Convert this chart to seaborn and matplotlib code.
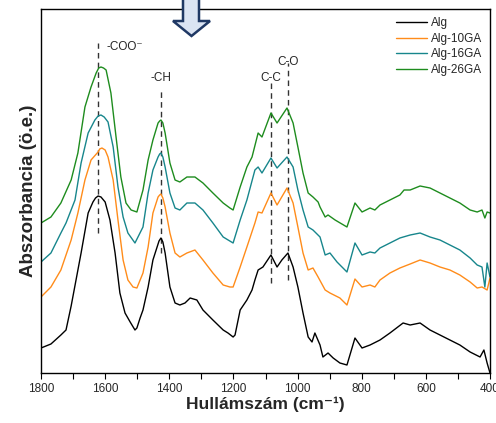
import numpy as np
import pandas as pd
import matplotlib
matplotlib.use('Agg')
import matplotlib.pyplot as plt
from matplotlib.patches import Polygon
from matplotlib.ticker import MultipleLocator
import seaborn as sns

# FTIR spektrumok (leolvasott értékek, eltolva, tetszőleges egység)
wn_alg = [1800, 1769, 1738, 1722, 1706, 1675, 1653, 1638, 1630, 1622, 1613, 1600, 1585, 1569,
          1554, 1538, 1522, 1507, 1501, 1491, 1482, 1466, 1451, 1438, 1432, 1426, 1420, 1413,
          1398, 1382, 1367, 1351, 1335, 1314, 1295, 1264, 1232, 1217, 1201, 1195, 1179, 1158,
          1142, 1133, 1123, 1108, 1083, 1064, 1049, 1030, 1014, 999, 983, 967, 955, 946, 930,
          921, 905, 889, 868, 846, 821, 799, 774, 743, 712, 671, 649, 618, 587, 556, 525, 494,
          462, 431, 419, 409, 400]
a_alg = [0.25, 0.29, 0.38, 0.43, 0.67, 1.20, 1.60, 1.71, 1.75, 1.77, 1.76, 1.71, 1.53, 1.20,
         0.80, 0.60, 0.51, 0.43, 0.45, 0.55, 0.63, 0.86, 1.13, 1.26, 1.32, 1.35, 1.31, 1.20,
         0.86, 0.70, 0.68, 0.70, 0.75, 0.73, 0.63, 0.53, 0.43, 0.40, 0.36, 0.38, 0.63, 0.73,
         0.83, 0.93, 1.03, 1.06, 1.18, 1.06, 1.13, 1.20, 1.06, 0.86, 0.60, 0.36, 0.31, 0.40,
         0.28, 0.16, 0.20, 0.15, 0.10, 0.08, 0.35, 0.25, 0.28, 0.33, 0.40, 0.50, 0.48, 0.50,
         0.43, 0.38, 0.33, 0.28, 0.21, 0.16, 0.23, 0.10, 0.00]

wn_10 = [1800, 1769, 1738, 1706, 1685, 1663, 1644, 1622, 1617, 1610, 1600, 1591, 1575, 1560,
         1544, 1529, 1513, 1501, 1482, 1466, 1451, 1435, 1430, 1426, 1420, 1413, 1398, 1382,
         1367, 1345, 1320, 1295, 1264, 1232, 1211, 1201, 1179, 1158, 1133, 1123, 1111, 1083,
         1064, 1033, 1014, 999, 983, 967, 952, 936, 914, 899, 868, 846, 821, 799, 774, 759,
         743, 712, 681, 649, 618, 587, 556, 525, 494, 462, 440, 425, 409, 400]
a_10 = [0.76, 0.86, 1.03, 1.33, 1.60, 1.93, 2.13, 2.21, 2.24, 2.25, 2.23, 2.16, 1.93, 1.53,
        1.13, 0.93, 0.86, 0.85, 1.00, 1.26, 1.60, 1.76, 1.78, 1.79, 1.75, 1.66, 1.40, 1.20,
        1.16, 1.20, 1.23, 1.13, 1.00, 0.88, 0.86, 0.86, 1.06, 1.26, 1.50, 1.61, 1.60, 1.80,
        1.68, 1.85, 1.70, 1.46, 1.20, 1.03, 1.05, 0.96, 0.83, 0.80, 0.75, 0.68, 0.94, 0.86,
        0.88, 0.86, 0.93, 1.00, 1.05, 1.09, 1.13, 1.10, 1.06, 1.03, 0.98, 0.91, 0.85, 0.86,
        0.83, 0.95]

wn_16 = [1800, 1769, 1738, 1722, 1694, 1675, 1653, 1632, 1622, 1613, 1603, 1591, 1575, 1560,
         1544, 1529, 1507, 1482, 1466, 1451, 1435, 1430, 1426, 1420, 1413, 1398, 1382, 1367,
         1345, 1320, 1295, 1264, 1232, 1201, 1179, 1158, 1133, 1123, 1111, 1083, 1064, 1033,
         1014, 999, 983, 967, 952, 930, 914, 899, 877, 846, 821, 799, 774, 759, 743, 712, 681,
         649, 618, 587, 556, 525, 494, 462, 440, 425, 416, 409, 400]
a_16 = [1.11, 1.20, 1.40, 1.50, 1.73, 2.10, 2.40, 2.53, 2.57, 2.58, 2.56, 2.51, 2.26, 1.86,
        1.56, 1.40, 1.30, 1.46, 1.80, 2.03, 2.16, 2.19, 2.20, 2.16, 2.06, 1.80, 1.65, 1.63,
        1.70, 1.70, 1.63, 1.50, 1.36, 1.30, 1.53, 1.73, 2.03, 2.06, 2.00, 2.15, 2.05, 2.16,
        2.06, 1.83, 1.63, 1.46, 1.43, 1.36, 1.18, 1.20, 1.11, 1.01, 1.30, 1.18, 1.21, 1.20,
        1.25, 1.30, 1.35, 1.38, 1.40, 1.36, 1.33, 1.28, 1.23, 1.15, 1.08, 1.06, 0.86, 1.10,
        0.96]

wn_26 = [1800, 1769, 1738, 1706, 1685, 1663, 1644, 1628, 1620, 1613, 1605, 1597, 1582, 1566,
         1551, 1535, 1519, 1501, 1482, 1466, 1451, 1435, 1430, 1426, 1420, 1413, 1398, 1382,
         1367, 1345, 1320, 1295, 1264, 1232, 1211, 1201, 1179, 1158, 1142, 1123, 1111, 1083,
         1064, 1033, 1014, 999, 983, 967, 952, 936, 930, 914, 905, 883, 846, 821, 799, 774,
         759, 743, 712, 681, 668, 649, 618, 587, 556, 525, 494, 462, 440, 425, 416, 409, 400]
a_26 = [1.50, 1.56, 1.70, 1.93, 2.20, 2.66, 2.86, 3.00, 3.05, 3.06, 3.05, 3.03, 2.80, 2.36,
        1.96, 1.70, 1.63, 1.61, 1.83, 2.13, 2.33, 2.50, 2.52, 2.53, 2.50, 2.40, 2.10, 1.93,
        1.91, 1.96, 1.96, 1.90, 1.80, 1.70, 1.65, 1.63, 1.86, 2.06, 2.16, 2.40, 2.36, 2.60,
        2.50, 2.65, 2.50, 2.26, 2.00, 1.80, 1.76, 1.71, 1.66, 1.56, 1.58, 1.53, 1.46, 1.70,
        1.61, 1.65, 1.63, 1.68, 1.73, 1.78, 1.83, 1.83, 1.87, 1.85, 1.80, 1.75, 1.70, 1.63,
        1.61, 1.63, 1.55, 1.61, 1.60]

minták = ['Alg', 'Alg-10GA', 'Alg-16GA', 'Alg-26GA']
színek = ['#000000', '#ff8c1a', '#17868c', '#1e8c1e']

# sávok: felirat, hullámszám, vonal alja, vonal teteje, felirat magassága
sav_nev = ['-COO\u207b', '-CH', 'C-C', 'C-O']
sav_wn = [1622, 1426, 1083, 1030]
sav_also = [1.40, 1.20, 0.90, 0.93]
sav_felso = [3.30, 2.85, 2.91, 3.10]
sav_szoveg_y = [3.26, 2.95, 2.95, 3.11]

frames = []
for nev, wn, a in zip(minták, [wn_alg, wn_10, wn_16, wn_26], [a_alg, a_10, a_16, a_26]):
    frames.append(pd.DataFrame({'wn': wn, 'A': a, 'minta': nev}))
df = pd.concat(frames, ignore_index=True)

sns.set_theme(style='ticks')
plt.rcParams['font.family'] = ['Liberation Sans', 'DejaVu Sans']

fig = plt.figure(figsize=(4.96, 4.23), dpi=100)
ax = fig.add_axes([41 / 496, 1 - 373 / 423, 449 / 496, 364 / 423])

sns.lineplot(data=df, x='wn', y='A', hue='minta', hue_order=minták,
             palette=dict(zip(minták, színek)), linewidth=1.0, estimator=None, ax=ax)

for nev, wn, lo, hi, ty in zip(sav_nev, sav_wn, sav_also, sav_felso, sav_szoveg_y):
    ax.plot([wn, wn], [lo, hi], ls=(0, (4, 3)), color='#333333', lw=1.0, zorder=1)
    if nev.startswith('-COO'):
        ax.text(wn - 25, ty, nev, ha='left', va='center', fontsize=8.5)
    else:
        ax.text(wn, ty, nev, ha='center', va='center', fontsize=8.5)

ax.set_xlim(1800, 400)
ax.set_ylim(0, 3.64)
ax.xaxis.set_major_locator(MultipleLocator(200))
ax.xaxis.set_minor_locator(MultipleLocator(100))
ax.tick_params(axis='x', which='both', direction='out', length=4, width=0.8,
               labelsize=8.5, pad=3, color='black')
ax.set_yticks([])
for s in ax.spines.values():
    s.set_visible(True)
    s.set_color('black')
    s.set_linewidth(1.0)

ax.set_xlabel('Hullámszám (cm\u207b\u00b9)', fontsize=12.5, fontweight='bold', labelpad=1)
ax.set_ylabel('Abszorbancia (ö.e.)', fontsize=13.5, fontweight='bold', labelpad=3)

leg = ax.legend(loc='upper right', frameon=False, fontsize=8.5, handlelength=2.6,
                handletextpad=0.3, labelspacing=0.3, borderaxespad=0.3)
leg.set_title(None)

# lefelé mutató nyíl a kép tetején
nyil_px = [(183, -2), (199, -2), (199, 21), (210, 21), (191.5, 36), (173, 21), (183, 21)]
nyil = Polygon([(x / 496, 1 - y / 423) for x, y in nyil_px], closed=True,
               transform=fig.transFigure, facecolor='#dbe4f3', edgecolor='#1f3864',
               linewidth=1.8, zorder=10, clip_on=False)
fig.add_artist(nyil)

fig.savefig('out.png', dpi=100)
